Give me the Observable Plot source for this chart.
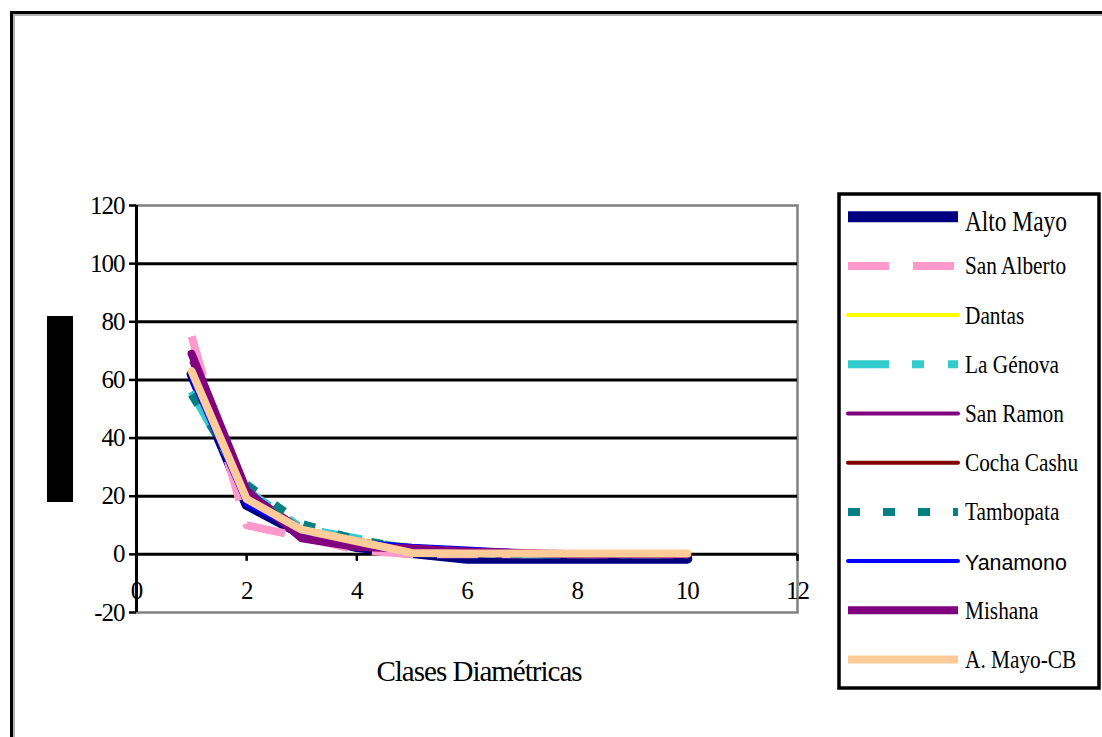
<!DOCTYPE html>
<html><head><meta charset="utf-8">
<script src="https://cdn.jsdelivr.net/npm/d3@7"></script>
<script src="https://cdn.jsdelivr.net/npm/@observablehq/plot@0.6"></script>
<style>
html,body{margin:0;padding:0;background:#fff;}
body{width:1102px;height:737px;overflow:hidden;position:relative;font-family:"Liberation Serif",serif;}
#frame{position:absolute;left:10px;top:11px;width:1200px;height:800px;border:3px solid #000;box-shadow:inset 2px 2px 0 #b0b0b0;}
#ytitle{position:absolute;left:47px;top:316px;width:26px;height:186px;background:#000;}
#chart{position:absolute;left:0;top:0;}
#legend{position:absolute;left:0;top:0;pointer-events:none;}
</style></head>
<body>
<div id="frame"></div>
<div id="ytitle"></div>
<div id="chart"></div>
<svg id="legend" width="1102" height="737"></svg>
<script>
// Diameter classes
const classes = [1, 2, 3, 4, 5, 6, 7, 8, 9, 10];
// Series values
const altoMayo   = [62, 17, 7, 2.5, 0.5, -1.5, -1.5, -1.5, -1.5, -1.5];
const sanAlberto = [75, 10, 6, 1.5, 0, 0, 0, 0, 0, 0];
const dantas     = [62, 19, 9, 5, 3, 1.8, 0.5, 0, 0, 0];
const laGenova   = [56, 22, 9, 5.5, 1.5, 0.5, 0, 0, 0, 0];
const sanRamon   = [66, 22, 9, 5, 2, 1, 0, 0, 0, 0];
const cochaCashu = [63, 20, 9, 4.5, 1, 0.5, 0, 0, 0, 0];
const tambopata  = [55, 24, 10.5, 5, 2, 1, 0, 0, 0, 0];
const yanamono   = [60, 17, 7.5, 4.5, 3, 2, 1, 0.5, 0.5, 0.5];
const mishana    = [69, 22, 5.5, 2.5, 2, 1, 0.5, 0, 0, 0];
const aMayoCB    = [63, 19, 8.5, 4.5, 0.5, 0.3, 0.3, 0.3, 0.3, 0.3];

const seriesNames = ["Alto Mayo","San Alberto","Dantas","La Génova","San Ramon","Cocha Cashu","Tambopata","Yanamono","Mishana","A. Mayo-CB"];
const seriesValues = [altoMayo, sanAlberto, dantas, laGenova, sanRamon, cochaCashu, tambopata, yanamono, mishana, aMayoCB];

const xTicks = [0, 2, 4, 6, 8, 10, 12];
const yTicks = [-20, 0, 20, 40, 60, 80, 100, 120];
const gridLines = [0, 20, 40, 60, 80, 100];
const xTitle = "Clases Diamétricas";

// styles
const styles = [
  {color:"#000080", width:10, dash:null},
  {color:"#FF99CC", width:8, dash:"41,24"},
  {color:"#FFFF00", width:4, dash:null},
  {color:"#33CCCC", width:8, dash:"41,23,12,24"},
  {color:"#800080", width:4, dash:null},
  {color:"#800000", width:4, dash:null},
  {color:"#008080", width:8, dash:"12,23"},
  {color:"#0000FF", width:4, dash:null},
  {color:"#800080", width:8, dash:null},
  {color:"#FFCC99", width:8, dash:null}
];

const lineMarks = seriesValues.map((vals, k) => {
  const s = styles[k];
  const data = classes.map((x, i) => ({x, y: vals[i]}));
  return Plot.line(data, {
    x: "x", y: "y", stroke: s.color, strokeWidth: s.width,
    strokeDasharray: s.dash || undefined,
    strokeLinecap: s.dash ? "butt" : "round",
    strokeLinejoin: "round"
  });
});

const chart = Plot.plot({
  width: 1102, height: 737,
  marginLeft: 136, marginRight: 305, marginTop: 205, marginBottom: 125,
  x: {domain: [0, 12], label: null},
  y: {domain: [-20, 120], label: null},
  style: {fontFamily: '"Liberation Serif", serif', fontSize: "24px", letterSpacing: "-1px", color: "#000", background: "transparent", overflow: "visible"},
  marks: [
    Plot.frame({stroke: "#808080", strokeWidth: 2.5}),
    Plot.ruleY(gridLines, {stroke: "#000", strokeWidth: 3}),
    Plot.ruleX([0], {stroke: "#000", strokeWidth: 3}),
    Plot.axisY({ticks: yTicks, tickSize: 7, tickPadding: 5, strokeWidth: 2.5, fontSize: 25, label: null, tickFormat: d => String(d)}),
    Plot.axisX({ticks: xTicks, anchor: "bottom", tickSize: 0, dy: -40, fontSize: 25, label: null}),
    Plot.ruleX(xTicks, {x: d => d, y1: 0, y2: -2.4, stroke: "#000", strokeWidth: 2.5}),
    ...lineMarks,
    Plot.text([xTitle], {frameAnchor: "bottom", lineAnchor: "bottom", dy: 68, dx: 12, fontSize: 29, text: d => d})
  ]
});
document.getElementById("chart").appendChild(chart);

// Legend
const lg = d3.select("#legend");
lg.append("rect").attr("x", 839).attr("y", 194).attr("width", 260).attr("height", 494)
  .attr("fill", "#fff").attr("stroke", "#000").attr("stroke-width", 3.5);
const rowY = d => 216.7 + d * 49.2;
seriesNames.forEach((name, k) => {
  const s = styles[k];
  const y = rowY(k);
  lg.append("line").attr("x1", 848).attr("x2", 958).attr("y1", y).attr("y2", y)
    .attr("stroke", s.color).attr("stroke-width", s.width === 10 ? 11 : s.width)
    .attr("stroke-dasharray", s.dash)
    .attr("stroke-linecap", s.dash ? "butt" : (s.width >= 8 ? "butt" : "round"));
  let fs = 26, fam = '"Liberation Serif", serif', sx = 0.82, off = 8.5;
  if (name === "Alto Mayo") { fs = 28.5; off = 14; }
  if (name === "Yanamono") { fs = 23; fam = '"Liberation Sans", sans-serif'; sx = 0.93; off = 9; }
  lg.append("text").attr("transform", `translate(965,${y + off}) scale(${sx},1)`)
    .attr("font-family", fam).attr("font-size", fs).attr("fill", "#000").text(name);
});
</script>
</body></html>
